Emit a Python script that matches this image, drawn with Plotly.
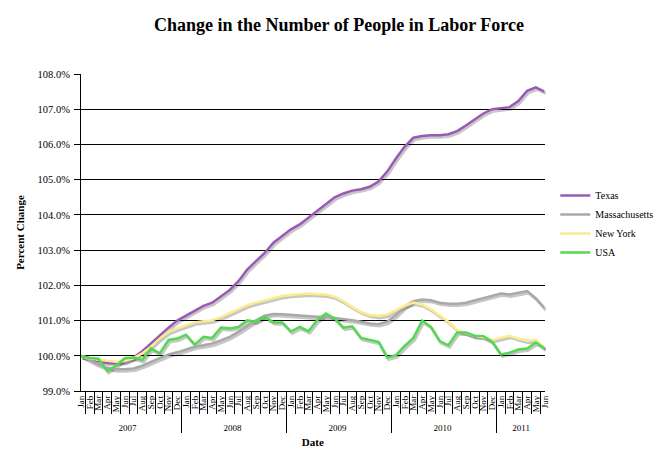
import plotly.graph_objects as go

years = ["2007", "2008", "2009", "2010", "2011"]
months = ["Jan", "Feb", "Mar", "Apr", "May", "Jun", "Jul", "Aug", "Sep", "Oct", "Nov", "Dec"]
n_months = 54

texas = [100.0, 99.93, 99.85, 99.8, 99.8, 99.83, 99.95, 100.13, 100.35, 100.59, 100.8, 101.0,
         101.14, 101.3, 101.42, 101.51, 101.68, 101.87, 102.12, 102.45, 102.69, 102.92, 103.21, 103.4,
         103.59, 103.73, 103.92, 104.11, 104.32, 104.5, 104.61, 104.69, 104.73, 104.8, 104.95, 105.23,
         105.6, 105.94, 106.19, 106.24, 106.26, 106.26, 106.29, 106.38, 106.54, 106.7, 106.88, 107.0,
         107.02, 107.06, 107.23, 107.52, 107.62, 107.5]
massachusetts = [100.0, 99.88, 99.75, 99.66, 99.62, 99.62, 99.64, 99.72, 99.83, 99.94, 100.04, 100.1,
                 100.19, 100.26, 100.3, 100.35, 100.44, 100.54, 100.68, 100.85, 101.01, 101.14, 101.19, 101.18,
                 101.16, 101.14, 101.12, 101.11, 101.11, 101.08, 101.06, 101.01, 100.97, 100.92, 100.9, 100.97,
                 101.16, 101.4, 101.55, 101.6, 101.58, 101.51, 101.48, 101.48, 101.51, 101.58, 101.65, 101.71,
                 101.77, 101.74, 101.8, 101.84, 101.63, 101.35]
new_york = [100.0, 99.93, 99.89, 99.85, 99.83, 99.85, 99.93, 100.07, 100.26, 100.49, 100.68, 100.78,
            100.86, 100.95, 100.98, 101.01, 101.1, 101.22, 101.34, 101.44, 101.51, 101.58, 101.65, 101.7,
            101.73, 101.75, 101.77, 101.75, 101.74, 101.68, 101.55, 101.39, 101.25, 101.16, 101.13, 101.17,
            101.3, 101.42, 101.51, 101.46, 101.32, 101.15, 100.97, 100.73, 100.66, 100.57, 100.53, 100.45,
            100.51, 100.57, 100.49, 100.43, 100.45, 100.23]
usa = [100.0, 99.94, 99.92, 99.57, 99.72, 99.93, 99.95, 99.88, 100.21, 100.07, 100.45, 100.49,
       100.6, 100.32, 100.54, 100.51, 100.8, 100.78, 100.82, 101.01, 100.97, 101.11, 100.95, 100.95,
       100.69, 100.82, 100.7, 101.01, 101.2, 101.06, 100.8, 100.84, 100.51, 100.46, 100.4, 99.95,
       100.02, 100.28, 100.51, 101.0, 100.82, 100.42, 100.3, 100.66, 100.66, 100.57, 100.56, 100.4,
       100.04, 100.09, 100.18, 100.21, 100.38, 100.21]

series_names = ["Texas", "Massachusetts", "New York", "USA"]
series_values = [texas, massachusetts, new_york, usa]
series_colors = ["#9b59b6", "#a9a9a9", "#fcec8c", "#52d852"]

x_years = [years[i // 12] for i in range(n_months)]
x_months = [months[i % 12] for i in range(n_months)]
xcat = [x_years, x_months]

SERIF = "Liberation Serif"
fig = go.Figure()

# drop shadows (bottom subplot layer, offset slightly right/down)
for vals in series_values:
    fig.add_trace(go.Scatter(x=xcat, y=vals, mode="lines", xaxis="x", yaxis="y",
                             line=dict(color="rgba(0,0,0,0.22)", width=3),
                             showlegend=False, hoverinfo="skip"))

# visible series on the top layer with the visible axes
for name, vals, col in zip(series_names, series_values, series_colors):
    fig.add_trace(go.Scatter(x=xcat, y=vals, mode="lines", name=name, xaxis="x2", yaxis="y2",
                             line=dict(color=col, width=2.5)))

yr = [99, 108]
fig.update_layout(
    width=662, height=465,
    margin=dict(l=73, r=106, t=66, b=80),
    paper_bgcolor="white", plot_bgcolor="rgba(0,0,0,0)",
    font=dict(family=SERIF, color="black", size=10),
    title=dict(text="<b>Change in the Number of People in Labor Force</b>",
               x=0.5, xanchor="center", y=0.965, yanchor="middle",
               font=dict(family=SERIF, size=18, color="black")),
    xaxis=dict(type="multicategory", domain=[0.003, 1], anchor="y",
               visible=False, showgrid=False),
    yaxis=dict(range=yr, domain=[0, 0.994], anchor="x", visible=False, showgrid=False),
    xaxis2=dict(type="multicategory", domain=[0, 0.997], anchor="y2",
                showline=True, linecolor="black", linewidth=1,
                nticks=200,
                ticks="outside", tickson="boundaries", ticklen=22, tickcolor="black",
                tickangle=-90, tickfont=dict(family=SERIF, size=9, color="black"),
                dividercolor="black", dividerwidth=1,
                showgrid=False,
                title=dict(text="<b>Date</b>", font=dict(family=SERIF, size=11), standoff=6)),
    yaxis2=dict(range=yr, domain=[0.006, 1], anchor="x2", dtick=1, tick0=99,
                tickformat=".1f", ticksuffix="%",
                showline=True, linecolor="black", linewidth=1,
                ticks="outside", ticklen=6, tickcolor="black",
                showgrid=True, gridcolor="black", gridwidth=1,
                zeroline=False, tickfont=dict(family=SERIF, size=10.5),
                ticklabelstandoff=2,
                title=dict(text="<b>Percent Change</b>", font=dict(family=SERIF, size=11), standoff=10)),
    legend=dict(x=1.02, y=0.53, xanchor="left", yanchor="middle",
                font=dict(family=SERIF, size=10), tracegroupgap=0, itemwidth=30,
                bgcolor="rgba(0,0,0,0)"),
)

fig.write_html("out.html")
